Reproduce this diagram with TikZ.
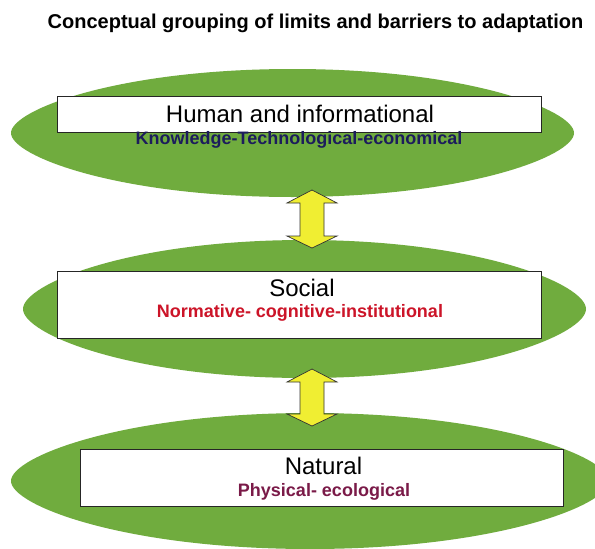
\documentclass[tikz,border=0pt]{standalone}
\usepackage{fontspec}
\setmainfont{Liberation Sans}
\definecolor{leaf}{RGB}{112,172,62}
\definecolor{yel}{RGB}{240,238,50}
\definecolor{navy}{RGB}{28,28,92}
\definecolor{redlab}{RGB}{204,20,40}
\definecolor{maroon}{RGB}{122,26,72}
\newcommand\lensblob[4]{% cx cy rx ry
  \fill[leaf] ({#1-#3},#2)
    .. controls ({#1-#3},{#2-0.36*#4}) and ({#1-0.62*#3},{#2-#4}) .. (#1,{#2-#4})
    .. controls ({#1+0.62*#3},{#2-#4}) and ({#1+#3},{#2-0.36*#4}) .. ({#1+#3},#2)
    .. controls ({#1+#3},{#2+0.36*#4}) and ({#1+0.62*#3},{#2+#4}) .. (#1,{#2+#4})
    .. controls ({#1-0.62*#3},{#2+#4}) and ({#1-#3},{#2+0.36*#4}) .. ({#1-#3},#2) -- cycle;}
\tikzset{
  panel/.style={rectangle, fill=white, draw=black!85, line width=1pt, inner sep=0pt},
  head/.style={font=\fontsize{24}{28}\selectfont, inner sep=0pt, anchor=base},
  sub/.style={font=\bfseries\fontsize{18}{21}\selectfont, inner sep=0pt, anchor=base},
  yarrow/.style={fill=yel, draw=black!80, line width=0.7pt, line join=miter}
}
\begin{document}
\begin{tikzpicture}[x=1pt,y=-1pt]
\useasboundingbox (0,0) rectangle (595,549);
\clip (0,0) rectangle (595,549);
\fill[white] (0,0) rectangle (595,549);
% title
\node[font=\bfseries\fontsize{20}{24}\selectfont, inner sep=0pt, anchor=base] (title) at (315.5,28) {Conceptual grouping of limits and barriers to adaptation};
% green lens shapes
\lensblob{292.5}{133}{281.5}{64}
\lensblob{304.5}{309}{281.5}{69}
\lensblob{310}{481}{299}{68}
% panels
\node[panel, minimum width=484, minimum height=36] (r1) at (299,114) {};
\node[panel, minimum width=484, minimum height=67] (r2) at (299,304.5) {};
\node[panel, minimum width=483, minimum height=57] (r3) at (321.5,477.5) {};
% labels
\node[head] (h1) at (300,122.5) {Human and informational};
\node[sub, text=navy] (s1) at (299,144.5) {Knowledge-Technological-economical};
\node[head] (h2) at (302,296) {Social};
\node[sub, text=redlab] (s2) at (300,317.5) {Normative- cognitive-institutional};
\node[head] (h3) at (323.5,474.5) {Natural};
\node[sub, text=maroon] (s3) at (324,496.5) {Physical- ecological};
% double arrows
\coordinate (a1t) at (312,190);
\coordinate (a2t) at (312,369);
\foreach \t/\L in {a1t/58, a2t/57} {
  \draw[yarrow] (\t) -- ++(25,13) -- ++(-13,0) -- ++(0,\L-25) -- ++(13,0)
     -- ++(-25,12) -- ++(-25,-12) -- ++(13,0) -- ++(0,-\L+25) -- ++(-13,0) -- cycle;
}
\end{tikzpicture}
\end{document}
